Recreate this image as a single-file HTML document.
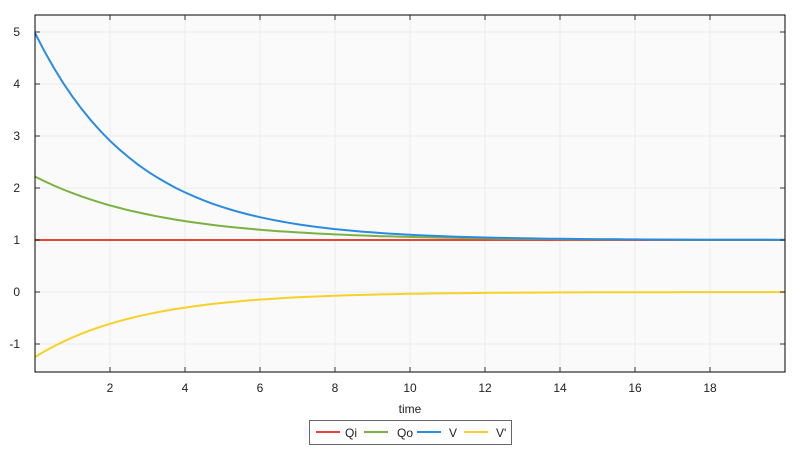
<!DOCTYPE html>
<html><head><meta charset="utf-8"><style>
body{margin:0;background:#fff;width:800px;height:450px;overflow:hidden;font-family:"Liberation Sans",sans-serif}
</style></head><body>
<svg id="s" width="800" height="450" xmlns="http://www.w3.org/2000/svg" font-family="Liberation Sans, sans-serif" font-size="12" fill="#222">
<rect x="35" y="15" width="750" height="357" fill="#fafafa"/>
<g id="grid" stroke="#ececec" stroke-width="1"></g>
<g id="lines" fill="none" stroke-width="2"></g>
<rect x="35" y="15" width="750" height="357" fill="none" stroke="#000" stroke-width="1"/>
<g id="ticks" stroke="#333"></g>
<g id="lab"></g>
<text x="410" y="413" text-anchor="middle">time</text>
<rect x="309.5" y="420.5" width="202" height="24" fill="#fff" stroke="#666"/>
<line x1="316" y1="432" x2="340" y2="432" stroke="#e8443a" stroke-width="2"/><text x="345" y="437">Qi</text>
<line x1="364" y1="432" x2="388" y2="432" stroke="#7ab241" stroke-width="2"/><text x="397" y="437">Qo</text>
<line x1="417" y1="432" x2="441" y2="432" stroke="#2b8be0" stroke-width="2"/><text x="449" y="437">V</text>
<line x1="464" y1="432" x2="488" y2="432" stroke="#f7d128" stroke-width="2"/><text x="496" y="437">V'</text>
</svg>
<script>
var X=t=>35+37.5*t, Y=v=>292-52*v, ns="http://www.w3.org/2000/svg";
function el(p,tag,a,txt){var e=document.createElementNS(ns,tag);for(var k in a)e.setAttribute(k,a[k]);if(txt!=null)e.textContent=txt;document.getElementById(p).appendChild(e);}
for(var t=2;t<=18;t+=2){el("grid","line",{x1:X(t),x2:X(t),y1:15,y2:372});el("ticks","line",{x1:X(t),x2:X(t),y1:372,y2:367});el("ticks","line",{x1:X(t),x2:X(t),y1:15,y2:20});el("lab","text",{x:X(t),y:392,"text-anchor":"middle"},t);}
for(var v=-1;v<=5;v++){el("grid","line",{x1:35,x2:785,y1:Y(v),y2:Y(v)});el("ticks","line",{x1:35,x2:40,y1:Y(v),y2:Y(v)});el("ticks","line",{x1:780,x2:785,y1:Y(v),y2:Y(v)});el("lab","text",{x:20,y:Y(v)+4,"text-anchor":"end"},v);}
function path(f,c){var d="";for(var t=0;t<=20.001;t+=0.25)d+=(d?"L":"M")+X(t).toFixed(1)+","+Y(f(t)).toFixed(1);el("lines","path",{d:d,stroke:c});}
path(t=>1,"#e8443a");
path(t=>1+1.22*Math.exp(-t/3.3),"#7ab241");
path(t=>1+3.98*Math.exp(-t/2.72),"#2b8be0");
path(t=>-1.25*Math.exp(-t/2.8),"#f7d128");
</script>
</body></html>
